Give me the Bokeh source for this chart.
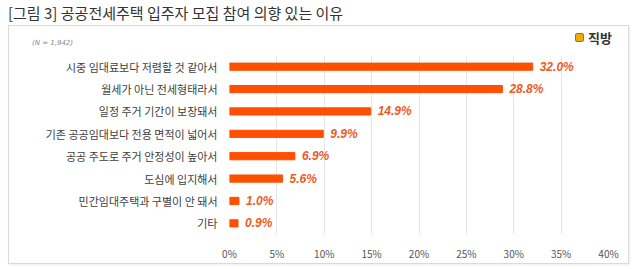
from bokeh.plotting import figure
from bokeh.models import ColumnDataSource, FixedTicker, PrintfTickFormatter, Range1d, Div
from bokeh.core.properties import value
from bokeh.layouts import column
from bokeh.embed import file_html
from bokeh.resources import INLINE

title_text = "[그림 3] 공공전세주택 입주자 모집 참여 의향 있는 이유"
categories = ["시중 임대료보다 저렴할 것 같아서", "월세가 아닌 전세형태라서", "일정 주거 기간이 보장돼서",
              "기존 공공임대보다 전용 면적이 넓어서", "공공 주도로 주거 안정성이 높아서", "도심에 입지해서",
              "민간임대주택과 구별이 안 돼서", "기타"]
values = [32.0, 28.8, 14.9, 9.9, 6.9, 5.6, 1.0, 0.9]
value_labels = ["32.0%", "28.8%", "14.9%", "9.9%", "6.9%", "5.6%", "1.0%", "0.9%"]
x_ticks = [0, 5, 10, 15, 20, 25, 30, 35, 40]
note = "(N = 1,942)"
brand = "직방"

KR = "Noto Sans CJK KR"

title = Div(text=title_text, width=640, height=25, margin=(0, 0, 0, 0),
            styles={"font-family": KR, "font-size": "15px", "color": "#333333",
                    "padding-left": "8px", "line-height": "25px", "white-space": "nowrap",
                    "box-sizing": "border-box"})

header_html = (
    "<div style='position:relative;width:619px;height:25px;'>"
    f"<span style='position:absolute;left:23px;top:13px;font-family:\"DejaVu Sans\";font-style:italic;"
    f"font-size:7px;line-height:9px;color:#888888;'>{note}</span>"
    "<span style='position:absolute;left:566px;top:7px;width:9px;height:9px;background:#F2A900;"
    "border:1px solid #777777;border-radius:2px;'></span>"
    f"<span style='position:absolute;left:579px;top:3px;font-family:\"{KR}\";font-weight:bold;"
    f"font-size:13px;line-height:18px;color:#333333;'>{brand}</span>"
    "</div>"
)
header = Div(text=header_html, width=619, height=25, margin=(0, 0, 0, 0))

p = figure(width=619, height=212, y_range=list(reversed(categories)), x_range=Range1d(0, 40),
           output_backend="svg", toolbar_location=None, margin=(0, 0, 0, 0),
           min_border_left=220, min_border_right=20, min_border_top=4, min_border_bottom=27)
p.outline_line_color = None
p.background_fill_color = "white"
p.border_fill_color = "white"

src = ColumnDataSource(dict(cat=categories, val=values, lab=value_labels))
p.hbar(y="cat", right="val", left=0, height=0.32, source=src, color="#FE5000")
p.text(x="val", y="cat", text="lab", source=src, x_offset=7, y_offset=0,
       text_align="left", text_baseline="middle", text_font=value("Liberation Sans"),
       text_font_style="bold italic", text_font_size="12px", text_color="#F05A1E")

p.xaxis.ticker = FixedTicker(ticks=x_ticks)
p.xaxis.formatter = PrintfTickFormatter(format="%d%%")
p.xaxis.axis_line_color = None
p.xaxis.major_tick_line_color = None
p.xaxis.minor_tick_line_color = None
p.xaxis.major_label_text_font = KR
p.xaxis.major_label_text_font_size = "10px"
p.xaxis.major_label_text_color = "#555555"
p.xaxis.major_label_standoff = 5

p.yaxis.axis_line_color = None
p.yaxis.major_tick_line_color = None
p.yaxis.minor_tick_line_color = None
p.yaxis.major_label_text_font = KR
p.yaxis.major_label_text_font_size = "11px"
p.yaxis.major_label_text_color = "#404040"
p.yaxis.major_label_standoff = 6

p.ygrid.grid_line_color = None
p.xgrid.grid_line_color = "#E6E6E6"
p.xgrid.ticker = FixedTicker(ticks=x_ticks)

panel = column(header, p, spacing=0, margin=(0, 0, 0, 8),
               styles={"border": "1px solid #DADADA", "box-shadow": "1px 1px 2px #EEEEEE"})

layout = column(title, panel, spacing=0, margin=(0, 0, 0, 0))
open("out.html", "w").write(file_html(layout, INLINE))
